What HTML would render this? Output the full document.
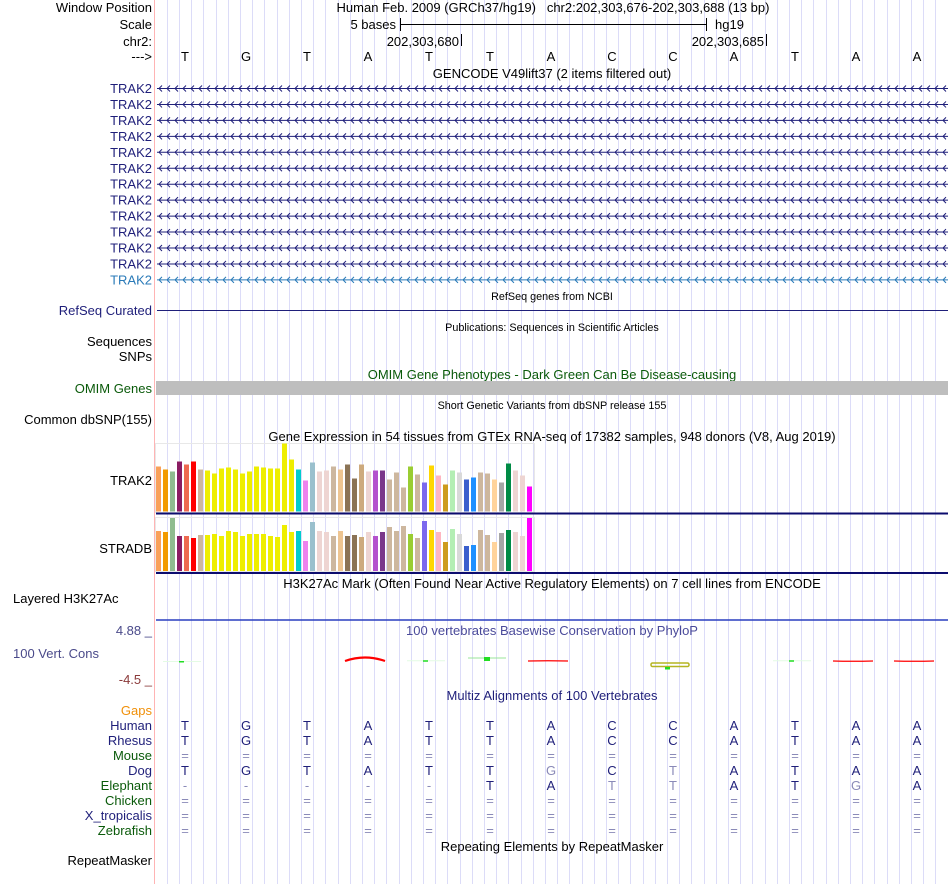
<!DOCTYPE html>
<html><head><meta charset="utf-8">
<style>
html,body{margin:0;padding:0;background:#fff;}
svg{display:block;font-family:"Liberation Sans",Arial,sans-serif;}
text{white-space:pre;}
</style></head>
<body>
<svg id="chart" width="950" height="884" viewBox="0 0 950 884" xmlns="http://www.w3.org/2000/svg" xml:space="preserve">
<g id="grid"></g>
<line x1="154.5" y1="0" x2="154.5" y2="884" stroke="#ffb4b4" stroke-width="1"/>

<g font-size="13" text-anchor="end">
 <text x="152" y="12" fill="#000">Window Position</text>
 <text x="152" y="29" fill="#000">Scale</text>
 <text x="152" y="46" fill="#000">chr2:</text>
 <text x="152" y="61" fill="#000">---&gt;</text>
 <text x="152" y="315" fill="#1f1f7a">RefSeq Curated</text>
 <text x="152" y="346" fill="#000">Sequences</text>
 <text x="152" y="361" fill="#000">SNPs</text>
 <text x="152" y="393" fill="#0a5a0a">OMIM Genes</text>
 <text x="152" y="424" fill="#000">Common dbSNP(155)</text>
 <text x="152" y="485" fill="#000">TRAK2</text>
 <text x="152" y="553" fill="#000">STRADB</text>
 <text x="152" y="635" fill="#4a4a8a">4.88 _</text>
 <text x="152" y="684" fill="#8b3a3a">-4.5 _</text>
 <text x="152" y="715" fill="#f0900a">Gaps</text>
 <text x="152" y="865" fill="#000">RepeatMasker</text>
</g>
<text x="13" y="603" font-size="13" fill="#000">Layered H3K27Ac</text>
<text x="13" y="658" font-size="13" fill="#4a4a8a">100 Vert. Cons</text>

<g font-size="13" fill="#000">
 <text x="553" y="12" text-anchor="middle">Human Feb. 2009 (GRCh37/hg19)   chr2:202,303,676-202,303,688 (13 bp)</text>
 <text x="396" y="29" text-anchor="end">5 bases</text>
 <line x1="400.5" y1="24.5" x2="706.5" y2="24.5" stroke="#000"/>
 <line x1="400.5" y1="18" x2="400.5" y2="31" stroke="#000"/>
 <line x1="706.5" y1="18" x2="706.5" y2="31" stroke="#000"/>
 <text x="715" y="29">hg19</text>
 <text x="459" y="46" text-anchor="end">202,303,680</text>
 <line x1="461.5" y1="34" x2="461.5" y2="46" stroke="#000"/>
 <text x="764" y="46" text-anchor="end">202,303,685</text>
 <line x1="766.5" y1="34" x2="766.5" y2="46" stroke="#000"/>
 <text x="552" y="78" text-anchor="middle">GENCODE V49lift37 (2 items filtered out)</text>
 <text x="552" y="300" text-anchor="middle" font-size="10.8">RefSeq genes from NCBI</text>
 <line x1="157" y1="310.5" x2="948" y2="310.5" stroke="#1f1f7a"/>
 <text x="552" y="331" text-anchor="middle" font-size="10.8">Publications: Sequences in Scientific Articles</text>
 <text x="552" y="379" text-anchor="middle" fill="#0a5a0a">OMIM Gene Phenotypes - Dark Green Can Be Disease-causing</text>
 <rect x="156" y="381" width="792" height="14" fill="#bebebe"/>
 <text x="552" y="409" text-anchor="middle" font-size="10.8">Short Genetic Variants from dbSNP release 155</text>
 <text x="552" y="441" text-anchor="middle">Gene Expression in 54 tissues from GTEx RNA-seq of 17382 samples, 948 donors (V8, Aug 2019)</text>
 <text x="552" y="588" text-anchor="middle">H3K27Ac Mark (Often Found Near Active Regulatory Elements) on 7 cell lines from ENCODE</text>
 <line x1="156" y1="620" x2="948" y2="620" stroke="#2a3fbf" stroke-width="1.5"/>
 <text x="552" y="635" text-anchor="middle" fill="#4a4a9a">100 vertebrates Basewise Conservation by PhyloP</text>
 <text x="552" y="700" text-anchor="middle" fill="#1f1f7a">Multiz Alignments of 100 Vertebrates</text>
 <text x="552" y="851" text-anchor="middle">Repeating Elements by RepeatMasker</text>
</g>

<g id="bases" font-size="13"></g>
<g id="genes"></g>
<g id="gtex"></g>
<g id="cons"></g>
<g id="align" font-size="13"></g>

<script>
const NS="http://www.w3.org/2000/svg";
const refBases=["T","G","T","A","T","T","A","C","C","A","T","A","A"];
const species=["Human","Rhesus","Mouse","Dog","Elephant","Chicken","X_tropicalis","Zebrafish"];
const speciesColor=["#1f1f7a","#1f1f7a","#0a5a0a","#1f1f7a","#0a5a0a","#0a5a0a","#1f1f7a","#0a5a0a"];
const alignRows=[
 "TGTATTACCATAA",
 "TGTATTACCATAA",
 "=============",
 "TGTATTgCtATAA",
 "-----TAttATgA",
 "=============",
 "=============",
 "============="
];
const tissueColors=["#F9A05A","#F29A00","#8FBC8F","#8B1C62","#EE6A50","#FF0000","#CDB79E","#EEEE00","#EEEE00","#EEEE00","#EEEE00","#EEEE00","#EEEE00","#EEEE00","#EEEE00","#EEEE00","#EEEE00","#EEEE00","#EEEE00","#EEEE00","#00CDCD","#EE82EE","#9AC0CD","#EED5D2","#EED5D2","#CDB79E","#EEC591","#8B7355","#8B7355","#CDAA7D","#EED5D2","#B452CD","#7A378B","#CDB79E","#CDB79E","#CDB79E","#9ACD32","#CDB79E","#7B68EE","#FFD700","#FFB6C1","#CD9B1D","#B4EEB4","#D9D9D9","#3A5FCD","#1E90FF","#CDB79E","#CDB79E","#FFD39B","#A6A6A6","#008B45","#EED5D2","#EED5D2","#FF00FF"];
const trak2Values=[45,42,40,50,47,50,42,41,38,43,44,42,38,40,45,44,43,43,68,52,42,31,49,40,41,45,42,47,33,47,40,41,41,32,39,24,45,37,29,46,36,27,41,39,32,34,39,38,32,29,48,41,36,25];
const stradbValues=[40,39,53,35,35,33,36,36,37,35,40,39,35,37,37,37,35,34,46,39,40,30,49,40,39,35,40,35,36,34,39,35,39,44,40,45,37,33,50,41,39,29,42,37,25,26,41,36,29,38,41,39,35,53];
const consScores=[0.1,0,0,1.0,0.25,0.8,0.5,0,-0.3,0,0.25,0.3,0.3];
const consKind=["g","","","r","g","g","r","","y","","g","r","r"];

const baseX=i=>154.5+61*i+30.5;
const markX=i=>baseX(i)-3;
const barX=i=>156+7*i;
const yTrak=v=>511.5-v;
const yStrad=v=>571-v;
const consY=v=>662-v*5;
function mk(tag,attrs,parent){const e=document.createElementNS(NS,tag);for(const k in attrs)e.setAttribute(k,attrs[k]);parent.appendChild(e);return e;}

const grid=document.getElementById('grid');
for(let k=1;k<65;k++){
 const x=Math.round(154.5+k*12.2)+0.5;
 const l=mk('line',{x1:x,y1:0,x2:x,y2:884,stroke:'#dcdcf8'},grid);
 
 
}
const bg=document.getElementById('bases');
refBases.forEach((b,i)=>{
 const t=mk('text',{x:baseX(i),y:61,'text-anchor':'middle',fill:'#000'},bg);
 t.textContent=b;
 
 
});
const gg=document.getElementById('genes');
for(let r=0;r<13;r++){
 const y=88.5+r*15.95;
 const col=r===12?'#2a7ab8':'#1f1f7a';
 const lab=mk('text',{x:152,y:y+4.5,'text-anchor':'end','font-size':13,fill:col},gg);
 lab.textContent='TRAK2';
 
 
 let d=`M157 ${y}H948`;
 for(let x=159;x<946;x+=8){d+=`M${x+3} ${y-3}L${x} ${y}L${x+3} ${y+3}`;}
 const p=mk('path',{d:d,stroke:col,fill:'none','stroke-width':1},gg);
 
 
}
const gx=document.getElementById('gtex');
const fr1=mk('rect',{x:155.5,y:443.5,width:379,height:69,fill:'none',stroke:'#e8e8e8'},gx);


const fr2=mk('rect',{x:155.5,y:517.5,width:379,height:54,fill:'none',stroke:'#e8e8e8'},gx);


trak2Values.forEach((v,i)=>{
 const r=mk('rect',{x:barX(i),y:yTrak(v),width:5,height:v,fill:tissueColors[i]},gx);
 
 
});
stradbValues.forEach((v,i)=>{
 const r=mk('rect',{x:barX(i),y:yStrad(v),width:5,height:v,fill:tissueColors[i]},gx);
 
 
});
const b1=mk('line',{x1:156,y1:513.5,x2:948,y2:513.5,stroke:'#0c0c6e','stroke-width':2},gx);


const b2=mk('line',{x1:156,y1:573,x2:948,y2:573,stroke:'#0c0c6e','stroke-width':2},gx);



const cg=document.getElementById('cons');
consScores.forEach((v,i)=>{
 const k=consKind[i];
 if(!k)return;
 const cx=markX(i);
 let e;
 if(k==='r'){
  const big=v>=0.8;
  e=mk('path',{d:`M${cx-20} 661Q${cx} ${consY(v)-(big?3:-1)} ${cx+20} 661`,stroke:'#ff0000','stroke-width':big?2.2:1.2,fill:'none'},cg);
 } else if(k==='y'){
  e=mk('rect',{x:cx-19,y:663,width:38,height:3.5,rx:1.5,stroke:'#b5b520','stroke-width':1.5,fill:'none'},cg);
  const g2=mk('rect',{x:cx-5,y:667,width:5,height:2.5,fill:'#22dd22'},cg);
  
  
 } else {
  const y=consY(v);
  const ln=mk('line',{x1:cx-19,y1:y,x2:cx+19,y2:y,stroke:v>0.5?'#99e699':'#e4fbe4'},cg);
  
  
  e=mk('rect',{x:cx-3,y:y-(v>0.5?1:0.5),width:v>0.5?6:5,height:v>0.5?4:1.5,fill:'#22dd22'},cg);
 }
 
 
});
const ag=document.getElementById('align');
species.forEach((s,r)=>{
 const y=730+r*15;
 const lab=mk('text',{x:152,y:y,'text-anchor':'end',fill:speciesColor[r]},ag);
 lab.textContent=s;
 
 
 alignRows[r].split('').forEach((c,i)=>{
  const low=c!==c.toUpperCase();
  const t=mk('text',{x:baseX(i),y:y,'text-anchor':'middle',fill:(c==='='||c==='-'||low)?'#8a8ab8':'#1f1f7a'},ag);
  t.textContent=c.toUpperCase();
  
  
 });
});
</script>
</svg>
</body></html>
